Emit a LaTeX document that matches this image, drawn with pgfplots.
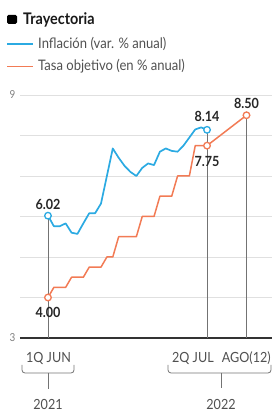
\documentclass[border=0pt]{standalone}
\usepackage{pgfplots}
\pgfplotsset{compat=1.18}
\usepackage{fontspec}
\setmainfont{Lato}[FakeStretch=0.9]
\definecolor{infl}{HTML}{2BAAE2}
\definecolor{tasa}{HTML}{F27B55}
\definecolor{txt}{HTML}{505050}
\begin{document}
\begin{tikzpicture}[x=1pt,y=1pt]
\useasboundingbox (0,0) rectangle (272,412);
\begin{axis}[at={(20pt,74pt)}, anchor=south west, scale only axis,
  width=252pt, height=243pt,
  xmin=-4.75, xmax=38.03, ymin=3, ymax=9, clip=false,
  axis line style={draw=none}, xtick=\empty,
  ytick={3,4,5,6,7,8,9}, yticklabels={3,,,,,,9},
  major tick length=0pt, ymajorgrids,
  grid style={color=black!12, line width=0.8pt},
  yticklabel style={font=\fontsize{11}{12}\selectfont, text=black!50, xshift=-1pt},
  /pgf/number format/assume math mode=true,
]
\draw[line width=2pt, black!80] (rel axis cs:0,0) -- (rel axis cs:1,0);
\addplot[black!55, line width=0.8pt] coordinates {(0,3) (0,6.02)};
\addplot[black!55, line width=0.8pt] coordinates {(27,3) (27,8.14)};
\addplot[black!55, line width=0.8pt] coordinates {(33.7,3) (33.7,8.50)};
\addplot[infl, line width=1.7pt, line join=round] coordinates {
(0,6.02)(1,5.76)(2,5.76)(3,5.83)(4,5.60)(5,5.57)(6,5.83)(7,6.08)(8,6.08)(9,6.32)
(10,7.00)(11,7.68)(12,7.45)(13,7.25)(14,7.10)(15,7.00)(16,7.20)(17,7.31)(18,7.27)
(19,7.60)(20,7.68)(21,7.62)(22,7.60)(23,7.75)(24,7.95)(25,8.15)(26,8.20)(27,8.14)};
\addplot[tasa, line width=1.5pt, line join=round] coordinates {
(0,4.00)(1,4.25)(2,4.25)(3,4.25)(4,4.50)(5,4.50)(6,4.50)(7,4.75)(8,4.75)(9,4.75)
(10,5.00)(11,5.00)(12,5.50)(13,5.50)(14,5.50)(15,5.50)(16,6.00)(17,6.00)(18,6.00)
(19,6.50)(20,6.50)(21,6.50)(22,7.00)(23,7.00)(24,7.00)(25,7.75)(26,7.75)(27,7.75)(33.7,8.50)};
\addplot[only marks, mark=*, mark size=3.3pt, mark options={draw=infl, fill=white, line width=1.3pt}]
  coordinates {(0,6.02)(27,8.14)};
\addplot[only marks, mark=*, mark size=3.3pt, mark options={draw=tasa, fill=white, line width=1.3pt}]
  coordinates {(0,4.00)(27,7.75)(33.7,8.50)};
\begin{scope}[every node/.style={font=\bfseries\fontsize{14}{15}\selectfont, text=black!85}]
\node[yshift=11.5pt] at (axis cs:0,6.02) {6.02};
\node[yshift=13pt] at (axis cs:27,8.14) {8.14};
\node[yshift=-16pt] at (axis cs:27,7.75) {7.75};
\node[yshift=12pt] at (axis cs:33.7,8.50) {8.50};
\node[yshift=-14.5pt] at (axis cs:0,4.00) {4.00};
\end{scope}
\end{axis}
% legend
\fill[black, rounded corners=1.5pt] (7,388) rectangle (17,397);
\node[anchor=west, font=\bfseries\fontsize{16}{17}\selectfont, text=black!90, inner sep=0pt] at (23,392.5) {Trayectoria};
\draw[infl, line width=1.6pt] (7,367.7) -- (33,367.7);
\node[anchor=west, font=\fontsize{14.5}{15}\selectfont, text=txt, inner sep=0pt] at (38,367.7) {Inflación (var. \% anual)};
\draw[tasa, line width=1.6pt] (7,345.3) -- (33,345.3);
\node[anchor=west, font=\fontsize{14.5}{15}\selectfont, text=txt, inner sep=0pt] at (38,345.3) {Tasa objetivo (en \% anual)};
% bottom labels
\begin{scope}[every node/.style={font=\fontsize{14}{15}\selectfont, text=txt, inner sep=0pt}]
\node at (48.5,54) {1Q JUN};
\node[anchor=east] at (214,54) {2Q JUL};
\node[anchor=east] at (271,54) {AGO(12)};
\node at (48,8) {2021};
\node at (221,8) {2022};
\end{scope}
\draw[black!55, line width=0.8pt, rounded corners=3pt] (22,47) -- (22,39) -- (74,39) -- (74,47);
\draw[black!55, line width=0.8pt] (48,39) -- (48,23);
\draw[black!55, line width=0.8pt, rounded corners=3pt] (168,47) -- (168,39) -- (271,39) -- (271,47);
\draw[black!55, line width=0.8pt] (221,39) -- (221,24);
\end{tikzpicture}
\end{document}
